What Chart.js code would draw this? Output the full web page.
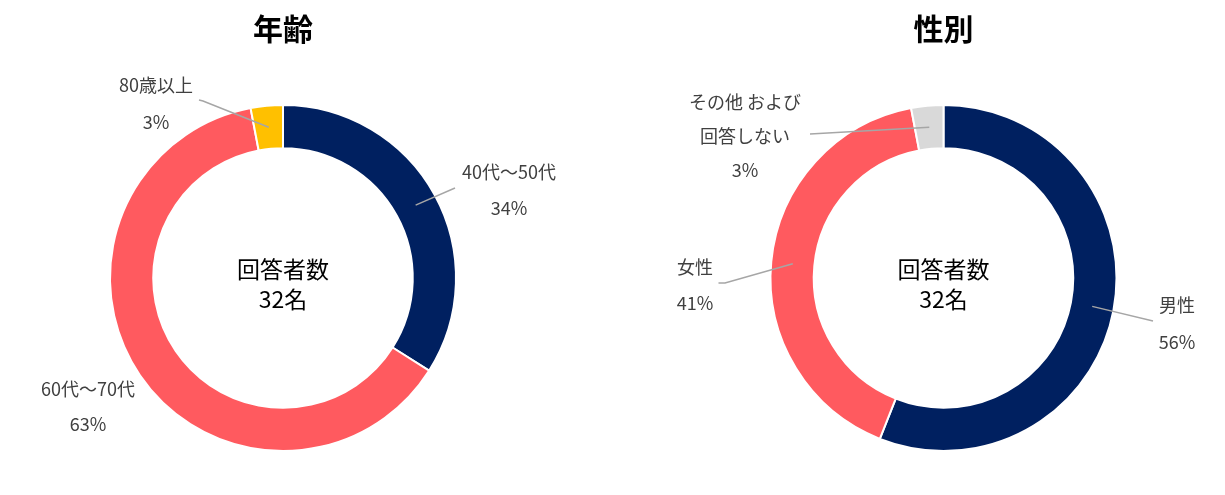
<!DOCTYPE html>
<html>
<head>
<meta charset="utf-8">
<script src="https://cdn.jsdelivr.net/npm/chart.js@4.4.1/dist/chart.umd.min.js"></script>
<style>
  html, body { margin: 0; padding: 0; background: #fff; }
  #wrap { position: relative; width: 1225px; height: 495px; }
  canvas { position: absolute; top: 0; }
</style>
</head>
<body>
<div id="wrap">
  <canvas id="age" width="612" height="495" style="left:0"></canvas>
  <canvas id="gender" width="613" height="495" style="left:612px"></canvas>
</div>
<script>
// ---- data ----
const ageTitle = '年齢';
const ageCategories = ['40代～50代', '60代～70代', '80歳以上'];
const agePercents = [34, 63, 3];
const ageColors = ['#002060', '#FF5A5F', '#FFC000'];

const genderTitle = '性別';
const genderCategories = ['男性', '女性', 'その他 および\n回答しない'];
const genderPercents = [56, 41, 3];
const genderColors = ['#002060', '#FF5A5F', '#D9D9D9'];

const centerLines = ['回答者数', '32名'];

// ---- label placement (style, relative to doughnut centre) ----
const ageLabelPlacement = [
  { dx: 226, dy: -106, lh: 36, line: [[172, -90]] },
  { dx: -195, dy: 111, lh: 35, line: null },
  { dx: -127, dy: -193, lh: 37, line: [[-80, -177], [-84, -178]] }
];
const genderLabelPlacement = [
  { dx: 233.5, dy: 27, lh: 37, line: [[209.5, 43]] },
  { dx: -248.5, dy: -11, lh: 36, line: [[-218.5, 5], [-225, 5]] },
  { dx: -198.5, dy: -176, lh: 34, line: [[-133.5, -144]] }
];

const FONT = "'Noto Sans CJK JP', 'Noto Sans', sans-serif";

const labelPlugin = {
  id: 'donutLabels',
  afterDraw(chart, args, opts) {
    const ctx = chart.ctx;
    const meta = chart.getDatasetMeta(0);
    const ds = chart.data.datasets[0];
    const cats = chart.data.labels;
    if (!meta.data.length) return;
    const a0 = meta.data[0];
    const cx = a0.x, cy = a0.y;
    ctx.save();
    // title
    ctx.fillStyle = '#000';
    ctx.font = 'bold 30px ' + FONT;
    ctx.textAlign = 'center';
    ctx.textBaseline = 'middle';
    ctx.fillText(opts.title, cx, 29);
    // centre text
    ctx.font = '23px ' + FONT;
    ctx.fillText(centerLines[0], cx, cy - 9);
    ctx.fillText(centerLines[1], cx, cy + 21);
    // slice labels
    meta.data.forEach((arc, i) => {
      const p = opts.placement[i];
      const mid = (arc.startAngle + arc.endAngle) / 2;
      const r = (arc.innerRadius + arc.outerRadius) / 2;
      const px = arc.x + Math.cos(mid) * r;
      const py = arc.y + Math.sin(mid) * r;
      if (p.line) {
        ctx.strokeStyle = '#A6A6A6';
        ctx.lineWidth = 1.5;
        ctx.beginPath();
        ctx.moveTo(px, py);
        p.line.forEach(pt => ctx.lineTo(cx + pt[0], cy + pt[1]));
        ctx.stroke();
      }
      const lines = String(cats[i]).split('\n').concat([ds.data[i] + '%']);
      ctx.fillStyle = '#404040';
      ctx.font = '18px ' + FONT;
      lines.forEach((t, k) => {
        ctx.fillText(t, cx + p.dx, cy + p.dy + k * p.lh);
      });
    });
    ctx.restore();
  }
};

function makeDonut(id, cats, values, colors, title, placement, padding) {
  return new Chart(document.getElementById(id), {
    type: 'doughnut',
    data: {
      labels: cats,
      datasets: [{
        data: values,
        backgroundColor: colors,
        borderColor: '#FFFFFF',
        borderWidth: 2,
        hoverOffset: 0
      }]
    },
    options: {
      responsive: false,
      animation: false,
      cutout: '75%',
      layout: { padding: padding },
      plugins: {
        legend: { display: false },
        tooltip: { enabled: false },
        title: { display: false },
        donutLabels: { title: title, placement: placement }
      }
    },
    plugins: [labelPlugin]
  });
}

makeDonut('age', ageCategories, agePercents, ageColors, ageTitle, ageLabelPlacement,
  { left: 109, right: 155, top: 104, bottom: 43 });
makeDonut('gender', genderCategories, genderPercents, genderColors, genderTitle, genderLabelPlacement,
  { left: 157.5, right: 107.5, top: 104, bottom: 43 });
</script>
</body>
</html>
